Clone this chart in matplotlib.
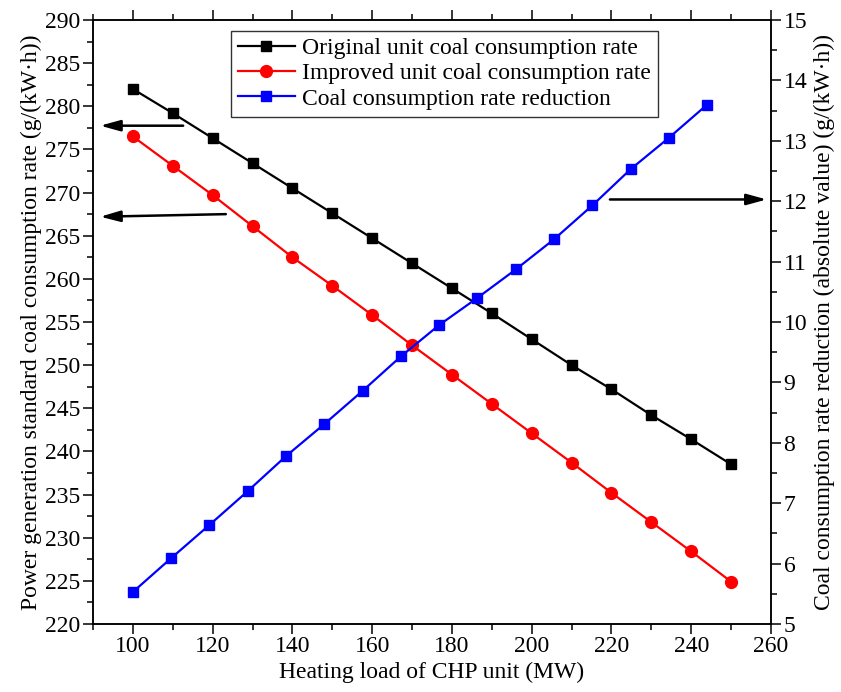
import numpy as np
import matplotlib.pyplot as plt
from matplotlib.ticker import MultipleLocator

plt.rcParams["font.family"] = ["Liberation Serif", "DejaVu Serif"]

# heating load (MW)
load = [100, 110, 120, 130, 140, 150, 160, 170, 180, 190, 200, 210, 220, 230, 240, 250]
original_rate = [282.0, 279.2, 276.3, 273.4, 270.5, 267.6, 264.7, 261.8,
                 258.9, 256.0, 253.0, 250.0, 247.2, 244.2, 241.4, 238.5]
improved_rate = [276.5, 273.1, 269.7, 266.1, 262.5, 259.2, 255.8, 252.3,
                 248.9, 245.5, 242.1, 238.7, 235.2, 231.8, 228.4, 224.9]

# reduction series sits on its own x positions
load_red = [100, 109.6, 119.2, 128.8, 138.4, 148, 157.6, 167.2,
            176.8, 186.4, 196, 205.6, 215.2, 224.8, 234.4, 244]
reduction = [5.53, 6.09, 6.64, 7.20, 7.78, 8.31, 8.86, 9.43,
             9.95, 10.40, 10.87, 11.37, 11.93, 12.53, 13.05, 13.60]

fig = plt.figure(figsize=(8.41, 6.92), dpi=100)
ax = fig.add_axes([0.1106, 0.0983, 0.8062, 0.8728])
ax2 = ax.twinx()

l1, = ax.plot(load, original_rate, color="black", marker="s", ms=7.5, lw=1.6,
              label="Original unit coal consumption rate")
l2, = ax.plot(load, improved_rate, color="red", marker="o", ms=8.5, lw=1.6,
              label="Improved unit coal consumption rate")
l3, = ax2.plot(load_red, reduction, color="blue", marker="s", ms=7.5, lw=1.6,
               label="Coal consumption rate reduction")

ax.set_xlim(90, 260)
ax.set_ylim(220, 290)
ax2.set_ylim(5, 15)

ax.xaxis.set_major_locator(MultipleLocator(20))
ax.xaxis.set_minor_locator(MultipleLocator(10))
ax.yaxis.set_major_locator(MultipleLocator(5))
ax.yaxis.set_minor_locator(MultipleLocator(2.5))
ax2.yaxis.set_major_locator(MultipleLocator(1))
ax2.yaxis.set_minor_locator(MultipleLocator(0.5))

for a in (ax, ax2):
    for s in a.spines.values():
        s.set_linewidth(1.1)
ax.tick_params(which="both", direction="out", width=1.1, labelsize=17,
               top=True, labeltop=False, pad=2)
ax.tick_params(which="major", length=7)
ax.tick_params(which="minor", length=4)
ax2.tick_params(which="both", direction="out", width=1.1, labelsize=17, pad=2)
ax2.tick_params(which="major", length=7)
ax2.tick_params(which="minor", length=4)

ax.set_xlabel("Heating load of CHP unit (MW)", fontsize=17, labelpad=3)
ax.set_ylabel("Power generation standard coal consumption rate (g/(kW·h))",
              fontsize=17, labelpad=2)
ax2.set_ylabel("Coal consumption rate reduction (absolute value) (g/(kW·h))",
               fontsize=17, labelpad=5)

leg = ax.legend(handles=[l1, l2, l3], loc="upper center",
                bbox_to_anchor=(0.518, 0.99), fontsize=17, frameon=True,
                fancybox=False, edgecolor="black", handlelength=2.4,
                handletextpad=0.3, borderpad=0.3, labelspacing=0.15,
                borderaxespad=0.2)
leg.get_frame().set_linewidth(1.0)

# arrows pointing to the matching axis
arrow = dict(arrowstyle="-|>,head_length=0.8,head_width=0.22", color="black",
             lw=1.8, shrinkA=0, shrinkB=0, mutation_scale=15)
ax.annotate("", xy=(91.8, 277.75), xytext=(112.6, 277.75), arrowprops=arrow)
ax.annotate("", xy=(91.8, 267.2), xytext=(123.3, 267.5), arrowprops=arrow)
ax.annotate("", xy=(258.9, 269.2), xytext=(219.6, 269.2), arrowprops=arrow)

fig.savefig("out.png", dpi=100)
